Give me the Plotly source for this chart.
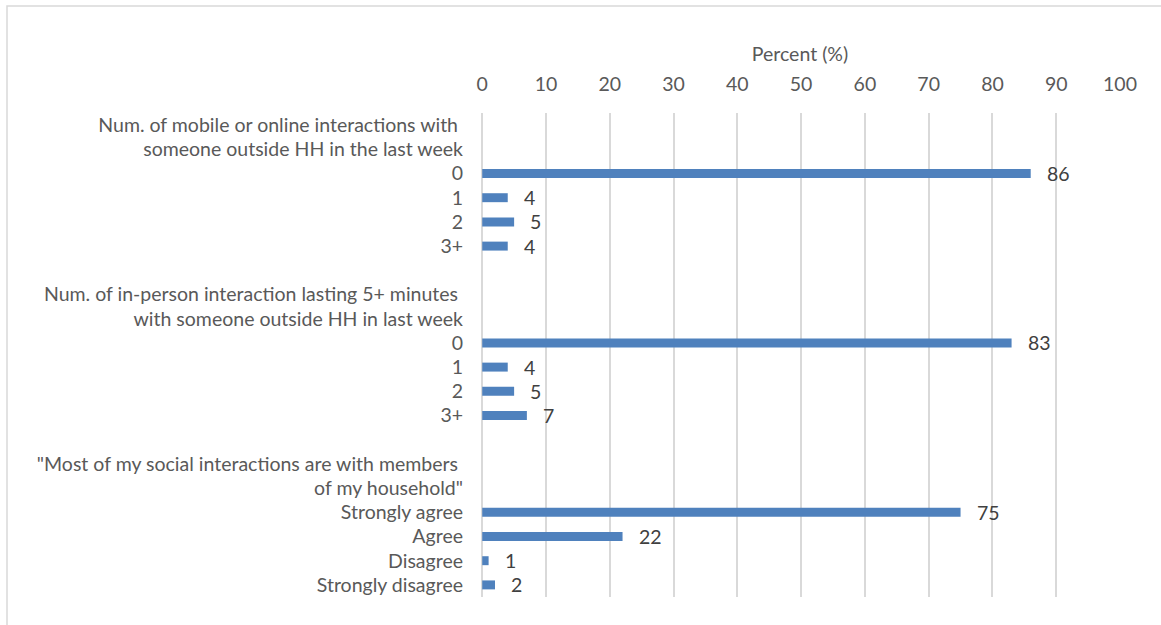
import plotly.graph_objects as go

# Row labels from top to bottom (header lines carry no bar)
row_labels = [
    "Num. of mobile or online interactions with\u00a0",
    "someone outside HH in the last week",
    "0", "1", "2", "3+",
    "",
    "Num. of in-person interaction lasting 5+ minutes\u00a0",
    "with someone outside HH in last week",
    "0", "1", "2", "3+",
    "",
    "\"Most of my social interactions are with members\u00a0",
    "of my household\"",
    "Strongly agree", "Agree", "Disagree", "Strongly disagree",
]

# Rows that hold a bar, and their percentages
bar_rows = [2, 3, 4, 5, 9, 10, 11, 12, 16, 17, 18, 19]
percent = [86, 4, 5, 4, 83, 4, 5, 7, 75, 22, 1, 2]

x_ticks = list(range(0, 101, 10))

W, H = 1161, 625
L, R, T, B = 480, 41, 113, 28
pw, ph = W - L - R, H - T - B

FONT = "Lato, 'Open Sans', sans-serif"
FS = 19.5
AXIS_GREY = "#595959"
LABEL_GREY = "#404040"
BAR_BLUE = "#4f81bd"
GRID = "#d9d9d9"

fig = go.Figure()
fig.add_trace(go.Bar(
    x=percent,
    y=bar_rows,
    orientation="h",
    width=0.37,
    marker=dict(color=BAR_BLUE, line=dict(width=0)),
    hoverinfo="skip",
))

# Value labels to the right of each bar
for r, v in zip(bar_rows, percent):
    fig.add_annotation(
        x=v, y=r, xref="x", yref="y", text=str(v),
        showarrow=False, xanchor="left", yanchor="middle",
        xshift=14, font=dict(family=FONT, size=FS, color=LABEL_GREY),
    )

# Outer chart frame
def px_x(p):
    return (p - L) / pw

def px_y(p):
    return (H - B - p) / ph

fig.add_shape(
    type="rect", xref="paper", yref="paper",
    x0=px_x(7), x1=px_x(W + 5), y0=px_y(H + 5), y1=px_y(6),
    line=dict(color=GRID, width=1.5), fillcolor="rgba(0,0,0,0)", layer="below",
)

fig.update_layout(
    width=W, height=H,
    margin=dict(l=L, r=R, t=T, b=B, pad=0),
    paper_bgcolor="white", plot_bgcolor="white",
    showlegend=False,
    font=dict(family=FONT, size=FS, color=AXIS_GREY),
    xaxis=dict(
        side="top", range=[-0.35, 100], tickmode="array", tickvals=x_ticks,
        ticktext=[str(t) for t in x_ticks],
        showgrid=True, gridcolor=GRID, gridwidth=1.5,
        zeroline=False, showline=False,
        ticks="outside", ticklen=13, tickcolor="rgba(0,0,0,0)",
        tickfont=dict(family=FONT, size=FS, color=AXIS_GREY),
        title=dict(text="Percent (%)", standoff=5,
                   font=dict(family=FONT, size=FS, color=AXIS_GREY)),
        fixedrange=True,
    ),
    yaxis=dict(
        range=[19.5, -0.5], tickmode="array",
        tickvals=list(range(len(row_labels))), ticktext=row_labels,
        showgrid=False, zeroline=False, showline=False,
        ticks="", ticklabelstandoff=16,
        tickfont=dict(family=FONT, size=FS, color=AXIS_GREY),
        fixedrange=True,
    ),
)

fig.write_html("out.html")
